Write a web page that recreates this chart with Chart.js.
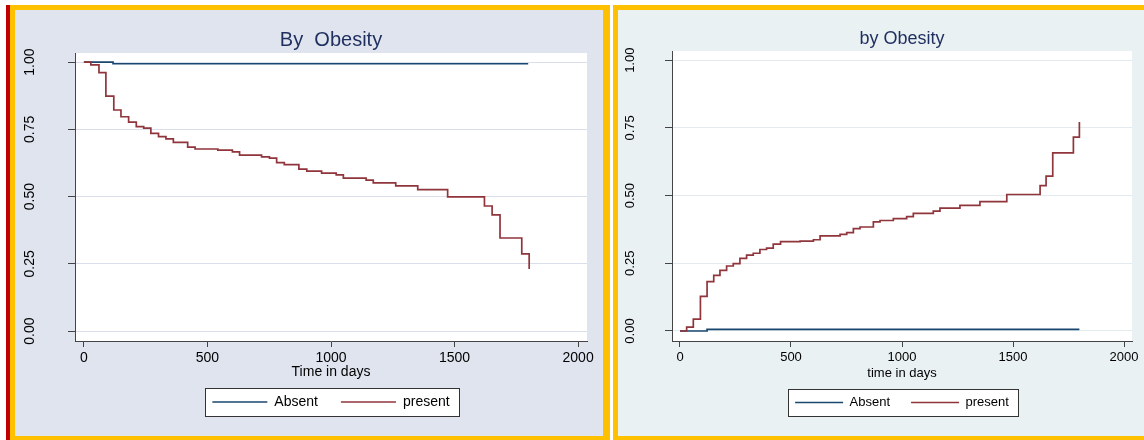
<!DOCTYPE html>
<html>
<head>
<meta charset="utf-8">
<script src="https://cdn.jsdelivr.net/npm/chart.js@4.4.0/dist/chart.umd.min.js"></script>
<style>
  html, body { margin: 0; padding: 0; background: #fff; }
  body { width: 1144px; height: 440px; position: relative; overflow: hidden; }
  .red { position: absolute; left: 6px; top: 5px; width: 4px; height: 435px; background: #c00000; }
  .frame { position: absolute; background: #ffc000; }
  .panel { position: absolute; }
  canvas { display: block; }
</style>
</head>
<body>
<div class="red"></div>
<div class="frame" style="left:10px;top:5px;width:600px;height:435px"></div>
<div class="panel" style="left:15px;top:10px;width:588px;height:426px;background:#e0e4ef">
  <canvas id="leftChart" width="588" height="426"></canvas>
</div>
<div class="frame" style="left:613px;top:5px;width:531px;height:435px"></div>
<div class="panel" style="left:618px;top:10px;width:526px;height:426px;background:#eaf1f3">
  <canvas id="rightChart" width="526" height="426"></canvas>
</div>
<script>
// axis ticks and groups
var xTicks = [0, 500, 1000, 1500, 2000];
var xTickLabels = ['0', '500', '1000', '1500', '2000'];
var yTicks = [0, 0.25, 0.5, 0.75, 1];
var yTickLabels = ['0.00', '0.25', '0.50', '0.75', '1.00'];
var groups = ['Absent', 'present'];

// left panel: survival by obesity (days, value after the step)
var absentDaysL = [0, 118, 1798];
var absentValsL = [1, 0.994, 0.994];
var presentDaysL = [0, 28, 61, 89, 121, 150, 181, 212, 242, 271, 302, 332, 362, 420, 450, 542, 601, 630, 719, 751,
  780, 811, 870, 902, 962, 1021, 1050, 1142, 1171, 1262, 1351, 1472, 1621, 1652, 1684, 1772, 1802];
var presentValsL = [1, 0.99, 0.961, 0.874, 0.822, 0.797, 0.777, 0.760, 0.755, 0.735, 0.723, 0.715, 0.702, 0.684, 0.677, 0.673, 0.666, 0.654, 0.648, 0.643,
  0.626, 0.619, 0.602, 0.595, 0.587, 0.581, 0.569, 0.561, 0.551, 0.540, 0.526, 0.499, 0.465, 0.432, 0.346, 0.287, 0.231];

// right panel: failure by obesity
var absentDaysR = [0, 122, 1799];
var absentValsR = [0, 0.006, 0.006];
var presentDaysR = [0, 30, 60, 92, 122, 152, 180, 210, 240, 270, 300, 330, 360, 390, 420, 453, 541, 601, 631, 721,
  751, 781, 811, 871, 901, 961, 1021, 1051, 1141, 1171, 1261, 1351, 1472, 1622, 1649, 1679, 1772, 1799];
var presentValsR = [0, 0.014, 0.044, 0.128, 0.182, 0.205, 0.224, 0.240, 0.249, 0.268, 0.280, 0.287, 0.301, 0.306, 0.321, 0.330, 0.332, 0.337, 0.351, 0.357,
  0.363, 0.378, 0.384, 0.403, 0.408, 0.415, 0.422, 0.434, 0.443, 0.454, 0.464, 0.478, 0.504, 0.537, 0.572, 0.658, 0.716, 0.772];

var FONT = '"Liberation Sans", Arial, sans-serif';
Chart.defaults.font.family = FONT;

function pts(days, vals) {
  return days.map(function (d, i) { return { x: d, y: vals[i] }; });
}

// white plot region + boxed legend, like stata
var panelPlugin = {
  id: 'panelBits',
  beforeDraw: function (chart) {
    var ctx = chart.ctx, a = chart.chartArea;
    ctx.save();
    ctx.fillStyle = '#fff';
    ctx.fillRect(a.left, a.top, a.right - a.left, a.bottom - a.top);
    var hb = chart.legend.legendHitBoxes;
    if (hb && hb.length) {
      var l = Math.min.apply(null, hb.map(function (h) { return h.left; })) - 7;
      var r = Math.max.apply(null, hb.map(function (h) { return h.left + h.width; })) + 9;
      var t = hb[0].top - 7, b = hb[0].top + hb[0].height + 7;
      l = Math.round(l); r = Math.round(r); t = Math.round(t); b = Math.round(b);
      ctx.fillRect(l, t, r - l, b - t);
      ctx.strokeStyle = '#333';
      ctx.lineWidth = 1;
      ctx.strokeRect(l + 0.5, t + 0.5, r - l, b - t);
    }
    ctx.restore();
  }
};

function build(id, o) {
  return new Chart(document.getElementById(id), {
    type: 'line',
    data: {
      datasets: [{
        label: groups[0],
        data: pts(o.absDays, o.absVals),
        borderColor: '#1a476f',
        borderWidth: 1.7,
        stepped: 'before',
        pointRadius: 0,
        order: 1
      }, {
        label: groups[1],
        data: pts(o.preDays, o.preVals),
        borderColor: '#90353b',
        borderWidth: 1.7,
        stepped: 'before',
        pointRadius: 0,
        order: 0
      }]
    },
    options: {
      responsive: false,
      animation: false,
      devicePixelRatio: 1,
      layout: { padding: { top: 0, left: 0, right: o.padRight, bottom: 17 } },
      plugins: {
        title: {
          display: true, text: o.title, fullSize: false, color: '#1e2e5e',
          font: { size: o.titleSize, weight: 'normal', lineHeight: 1 },
          padding: { top: 20, bottom: 3 }
        },
        legend: {
          position: 'bottom', fullSize: false,
          labels: {
            usePointStyle: true, pointStyle: 'line', pointStyleWidth: o.legLine,
            color: '#000', font: { size: o.textSize }, padding: o.legPad,
            sort: function (a, b) { return a.datasetIndex - b.datasetIndex; }
          }
        },
        tooltip: { enabled: false }
      },
      scales: {
        x: {
          type: 'linear', min: -36, max: 2036,
          afterBuildTicks: function (s) { s.ticks = xTicks.map(function (v) { return { value: v }; }); },
          grid: { drawOnChartArea: false, tickLength: 6, tickColor: '#444' },
          border: { display: true, color: '#444', width: 1 },
          ticks: {
            color: '#000', font: { size: o.textSize, lineHeight: 1 }, padding: 4, maxRotation: 0, autoSkip: false,
            callback: function (v, i) { return xTickLabels[i]; }
          },
          title: { display: true, text: o.xTitle, color: '#000', font: { size: o.textSize, lineHeight: 1 }, padding: o.xTitlePad }
        },
        y: {
          type: 'linear', min: -0.037, max: 1.034,
          afterBuildTicks: function (s) { s.ticks = yTicks.map(function (v) { return { value: v }; }); },
          afterFit: function (s) { s.width = o.yWidth; },
          grid: { color: o.gridColor, tickLength: 7, tickColor: '#444' },
          border: { display: true, color: '#444', width: 1 },
          ticks: {
            color: '#000', font: { size: o.textSize, lineHeight: 1 },
            minRotation: 90, maxRotation: 90, crossAlign: 'center', padding: o.yPad,
            callback: function (v, i) { return yTickLabels[i]; }
          }
        }
      }
    },
    plugins: [panelPlugin]
  });
}

build('leftChart', {
  title: 'By  Obesity', xTitle: 'Time in days', titleSize: 20, textSize: 14, legLine: 55, legPad: 23,
  xTitlePad: { top: -4, bottom: -7 },
  absDays: absentDaysL, absVals: absentValsL, preDays: presentDaysL, preVals: presentValsL,
  padRight: 16, yWidth: 60, yPad: 24, gridColor: '#d8deea'
});

build('rightChart', {
  title: 'by Obesity', xTitle: 'time in days', titleSize: 18, textSize: 13, legLine: 48, legPad: 21,
  xTitlePad: { top: -1, bottom: -5 },
  absDays: absentDaysR, absVals: absentValsR, preDays: presentDaysR, preVals: presentValsR,
  padRight: 12, yWidth: 54, yPad: 22, gridColor: '#e3ebee'
});
</script>
</body>
</html>
